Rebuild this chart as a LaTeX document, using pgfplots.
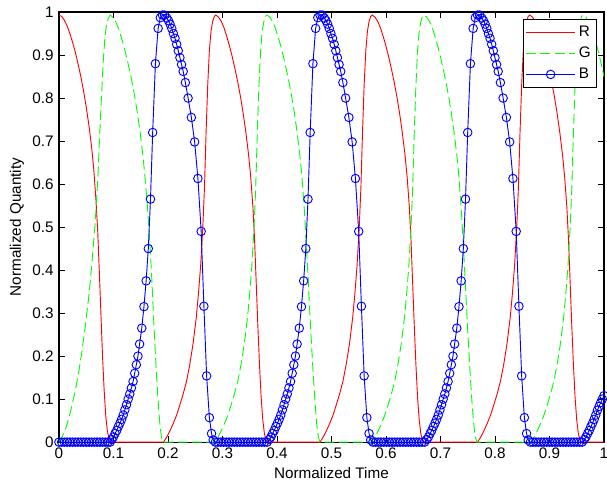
\documentclass[border=0pt]{standalone}
\usepackage{fontspec}
\setmainfont{Liberation Sans}
\usepackage{pgfplots}
\usepackage{pgfplotstable}
\pgfplotsset{compat=1.18}

% R: red solid line
\pgfplotstableread{
t v
0.000 0.993
0.005 0.990
0.010 0.981
0.015 0.968
0.020 0.950
0.025 0.930
0.030 0.907
0.035 0.880
0.040 0.851
0.045 0.818
0.050 0.780
0.055 0.737
0.060 0.686
0.064 0.633
0.068 0.562
0.071 0.495
0.074 0.400
0.077 0.300
0.080 0.200
0.083 0.120
0.086 0.060
0.089 0.025
0.092 0.007
0.095 0
0.192 0
0.198 0.012
0.204 0.027
0.210 0.044
0.216 0.063
0.222 0.087
0.228 0.112
0.234 0.141
0.240 0.180
0.246 0.228
0.252 0.290
0.256 0.345
0.260 0.41
0.264 0.50
0.267 0.59
0.270 0.72
0.273 0.83
0.276 0.91
0.279 0.955
0.282 0.978
0.285 0.99
0.288 0.993
0.293 0.988
0.298 0.978
0.303 0.963
0.308 0.943
0.313 0.921
0.318 0.896
0.323 0.868
0.328 0.838
0.333 0.804
0.338 0.765
0.343 0.720
0.348 0.668
0.352 0.615
0.356 0.545
0.359 0.470
0.362 0.370
0.365 0.270
0.368 0.180
0.371 0.105
0.374 0.052
0.377 0.020
0.380 0.005
0.383 0
0.479 0
0.485 0.012
0.491 0.027
0.497 0.044
0.503 0.063
0.509 0.087
0.515 0.112
0.521 0.141
0.527 0.180
0.533 0.228
0.539 0.290
0.543 0.345
0.547 0.41
0.551 0.50
0.554 0.59
0.557 0.72
0.560 0.83
0.563 0.91
0.566 0.955
0.569 0.978
0.572 0.99
0.575 0.993
0.580 0.988
0.585 0.978
0.590 0.963
0.595 0.943
0.600 0.921
0.605 0.896
0.610 0.868
0.615 0.838
0.620 0.804
0.625 0.765
0.630 0.720
0.635 0.668
0.639 0.615
0.643 0.545
0.646 0.470
0.649 0.370
0.652 0.270
0.655 0.180
0.658 0.105
0.661 0.052
0.664 0.020
0.667 0.005
0.670 0
0.768 0
0.774 0.012
0.780 0.027
0.786 0.044
0.792 0.063
0.798 0.087
0.804 0.112
0.810 0.141
0.816 0.180
0.822 0.228
0.828 0.290
0.832 0.345
0.836 0.41
0.840 0.50
0.843 0.59
0.846 0.72
0.849 0.83
0.852 0.91
0.855 0.955
0.858 0.978
0.861 0.99
0.864 0.993
0.869 0.988
0.874 0.978
0.879 0.963
0.884 0.943
0.889 0.921
0.894 0.896
0.899 0.868
0.904 0.838
0.909 0.804
0.914 0.765
0.919 0.720
0.924 0.668
0.928 0.615
0.932 0.545
0.935 0.470
0.938 0.370
0.941 0.270
0.944 0.180
0.947 0.105
0.950 0.052
0.953 0.020
0.956 0.005
0.959 0
1.000 0
}\Rdata

% G: green dashed line
\pgfplotstableread{
t v
0.000 0
0.006 0.012
0.012 0.030
0.018 0.055
0.024 0.085
0.030 0.120
0.036 0.160
0.042 0.210
0.048 0.265
0.054 0.330
0.058 0.380
0.062 0.440
0.066 0.500
0.069 0.560
0.072 0.630
0.075 0.720
0.078 0.800
0.081 0.880
0.084 0.935
0.087 0.968
0.090 0.984
0.094 0.993
0.099 0.988
0.104 0.978
0.109 0.963
0.114 0.943
0.119 0.921
0.124 0.896
0.129 0.868
0.134 0.838
0.139 0.804
0.144 0.765
0.149 0.720
0.154 0.668
0.158 0.615
0.162 0.555
0.166 0.480
0.170 0.390
0.174 0.280
0.178 0.180
0.182 0.095
0.185 0.045
0.188 0.012
0.191 0
0.286 0
0.292 0.012
0.298 0.027
0.304 0.044
0.310 0.063
0.316 0.087
0.322 0.112
0.328 0.141
0.334 0.180
0.340 0.228
0.346 0.290
0.350 0.345
0.354 0.41
0.358 0.50
0.361 0.59
0.364 0.72
0.367 0.83
0.370 0.91
0.373 0.955
0.376 0.978
0.379 0.99
0.382 0.993
0.387 0.988
0.392 0.978
0.397 0.963
0.402 0.943
0.407 0.921
0.412 0.896
0.417 0.868
0.422 0.838
0.427 0.804
0.432 0.765
0.437 0.720
0.442 0.668
0.446 0.615
0.450 0.545
0.454 0.460
0.458 0.360
0.462 0.260
0.466 0.170
0.470 0.090
0.473 0.042
0.476 0.012
0.479 0
0.574 0
0.580 0.012
0.586 0.027
0.592 0.044
0.598 0.063
0.604 0.087
0.610 0.112
0.616 0.141
0.622 0.180
0.628 0.228
0.634 0.290
0.638 0.345
0.642 0.41
0.646 0.50
0.649 0.59
0.652 0.72
0.655 0.83
0.658 0.91
0.661 0.955
0.664 0.978
0.667 0.99
0.670 0.993
0.675 0.988
0.680 0.978
0.685 0.963
0.690 0.943
0.695 0.921
0.700 0.896
0.705 0.868
0.710 0.838
0.715 0.804
0.720 0.765
0.725 0.720
0.730 0.668
0.734 0.615
0.738 0.545
0.742 0.460
0.746 0.360
0.750 0.260
0.754 0.170
0.758 0.090
0.761 0.042
0.764 0.012
0.767 0
0.866 0
0.872 0.012
0.878 0.027
0.884 0.044
0.890 0.063
0.896 0.087
0.902 0.112
0.908 0.141
0.914 0.180
0.920 0.228
0.926 0.290
0.930 0.345
0.934 0.41
0.938 0.50
0.941 0.59
0.944 0.72
0.947 0.83
0.950 0.91
0.953 0.955
0.956 0.978
0.959 0.99
0.962 0.993
0.967 0.988
0.972 0.978
0.977 0.963
0.982 0.943
0.987 0.921
0.992 0.896
0.997 0.868
1.000 0.850
}\Gdata

% B: blue line with circles (solver steps)
\pgfplotstableread{
t v
0.000 0
0.005 0
0.010 0
0.015 0
0.020 0
0.025 0
0.030 0
0.035 0
0.040 0
0.045 0
0.050 0
0.055 0
0.060 0
0.065 0
0.070 0
0.075 0
0.080 0
0.085 0
0.090 0
0.094 0
0.097 0.006
0.100 0.012
0.103 0.020
0.106 0.027
0.109 0.036
0.112 0.044
0.115 0.053
0.118 0.063
0.121 0.075
0.124 0.087
0.127 0.100
0.130 0.112
0.133 0.126
0.136 0.141
0.139 0.160
0.142 0.180
0.145 0.200
0.148 0.228
0.152 0.265
0.156 0.315
0.160 0.375
0.164 0.450
0.168 0.565
0.172 0.720
0.177 0.880
0.182 0.962
0.186 0.987
0.190 0.993
0.194 0.993
0.198 0.986
0.201 0.980
0.204 0.972
0.207 0.962
0.210 0.950
0.213 0.939
0.216 0.925
0.219 0.910
0.222 0.894
0.225 0.878
0.228 0.862
0.232 0.836
0.237 0.800
0.243 0.755
0.249 0.698
0.255 0.613
0.261 0.490
0.266 0.316
0.271 0.154
0.276 0.057
0.280 0.020
0.283 0.005
0.287 0
0.292 0
0.297 0
0.302 0
0.307 0
0.312 0
0.317 0
0.322 0
0.327 0
0.332 0
0.337 0
0.342 0
0.347 0
0.352 0
0.357 0
0.362 0
0.367 0
0.372 0
0.377 0
0.382 0
0.386 0.006
0.389 0.012
0.392 0.020
0.395 0.027
0.398 0.036
0.401 0.044
0.404 0.053
0.407 0.063
0.410 0.075
0.413 0.087
0.416 0.100
0.419 0.112
0.422 0.126
0.425 0.141
0.428 0.160
0.431 0.180
0.434 0.200
0.437 0.228
0.441 0.265
0.445 0.315
0.449 0.375
0.453 0.450
0.457 0.565
0.461 0.720
0.466 0.880
0.471 0.962
0.475 0.987
0.479 0.993
0.483 0.993
0.487 0.986
0.490 0.980
0.493 0.972
0.496 0.962
0.499 0.950
0.502 0.939
0.505 0.925
0.508 0.910
0.511 0.894
0.514 0.878
0.517 0.862
0.521 0.836
0.526 0.800
0.532 0.755
0.538 0.698
0.544 0.613
0.550 0.490
0.555 0.316
0.560 0.154
0.565 0.057
0.569 0.020
0.572 0.005
0.576 0
0.581 0
0.586 0
0.591 0
0.596 0
0.601 0
0.606 0
0.611 0
0.616 0
0.621 0
0.626 0
0.631 0
0.636 0
0.641 0
0.646 0
0.651 0
0.656 0
0.661 0
0.666 0
0.671 0
0.675 0.006
0.678 0.012
0.681 0.020
0.684 0.027
0.687 0.036
0.690 0.044
0.693 0.053
0.696 0.063
0.699 0.075
0.702 0.087
0.705 0.100
0.708 0.112
0.711 0.126
0.714 0.141
0.717 0.160
0.720 0.180
0.723 0.200
0.726 0.228
0.730 0.265
0.734 0.315
0.738 0.375
0.742 0.450
0.746 0.565
0.750 0.720
0.755 0.880
0.760 0.962
0.764 0.987
0.768 0.993
0.772 0.993
0.776 0.986
0.779 0.980
0.782 0.972
0.785 0.962
0.788 0.950
0.791 0.939
0.794 0.925
0.797 0.910
0.800 0.894
0.803 0.878
0.806 0.862
0.810 0.836
0.815 0.800
0.821 0.755
0.827 0.698
0.833 0.613
0.839 0.490
0.844 0.316
0.849 0.154
0.854 0.057
0.858 0.020
0.861 0.005
0.865 0
0.870 0
0.875 0
0.880 0
0.885 0
0.890 0
0.895 0
0.900 0
0.905 0
0.910 0
0.915 0
0.920 0
0.925 0
0.930 0
0.935 0
0.940 0
0.945 0
0.950 0
0.955 0
0.960 0
0.964 0.006
0.967 0.012
0.970 0.020
0.973 0.027
0.976 0.036
0.979 0.044
0.982 0.053
0.985 0.063
0.988 0.074
0.991 0.083
0.994 0.092
0.997 0.100
1.000 0.108
}\Bdata

\begin{document}
\begin{tikzpicture}
\begin{axis}[
    scale only axis,
    width=357pt, height=281.7pt,
    xmin=0, xmax=1, ymin=0, ymax=1,
    xtick={0,0.1,...,1}, ytick={0,0.1,...,1},
    xticklabels={0,0.1,0.2,0.3,0.4,0.5,0.6,0.7,0.8,0.9,1},
    yticklabels={0,0.1,0.2,0.3,0.4,0.5,0.6,0.7,0.8,0.9,1},
    /pgf/number format/assume math mode=true,
    tick align=inside,
    major tick length=3.8pt,
    tick style={black, line width=0.5pt},
    axis line style={black, line width=0.8pt},
    xlabel={Normalized Time},
    ylabel={Normalized Quantity},
    every axis x label/.style={at={(axis description cs:0.5,-0.0722)}, anchor=center},
    every axis y label/.style={at={(axis description cs:-0.077,0.5)}, rotate=90, anchor=center},
    clip=false,
    legend cell align=left,
    legend style={at={(0.987,0.984)}, anchor=north east, draw=black,
        line width=0.6pt, font=\normalsize, inner xsep=1.5pt, inner ysep=2pt,
        row sep=1pt, nodes={inner sep=2.2pt}},
    legend image code/.code={%
        \draw[mark repeat=2,mark phase=2,#1]
        plot coordinates {(0pt,0pt) (16pt,0pt) (32pt,0pt)};},
]
\addplot[color=red, line width=0.6pt, no markers] table[x=t, y=v] {\Rdata};
\addlegendentry{R}
\addplot[color=green, line width=0.6pt, no markers,
    dash pattern=on 6.5pt off 2.8pt] table[x=t, y=v] {\Gdata};
\addlegendentry{G}
\addplot[color=blue, line width=0.6pt, mark=o, mark size=2.8pt,
    mark options={solid, line width=0.6pt}] table[x=t, y=v] {\Bdata};
\addlegendentry{B}
\coordinate (ll) at (rel axis cs:0,0);
\coordinate (ur) at (rel axis cs:1,1);
\end{axis}
\pgfresetboundingbox
\path[use as bounding box] ([xshift=-38.6pt,yshift=-26.9pt]ll) rectangle ([xshift=2pt,yshift=7.9pt]ur);
\end{tikzpicture}
\end{document}
